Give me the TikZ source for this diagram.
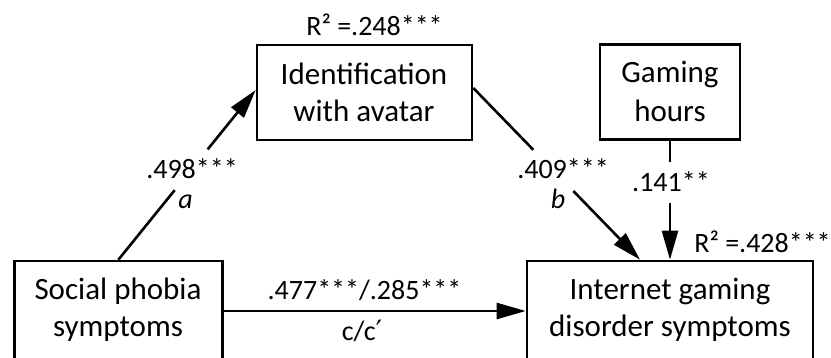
\documentclass[tikz,border=0pt]{standalone}
\usepackage{fontspec}
\setmainfont{Carlito}
\newfontfamily\primefont{DejaVu Sans}
\usetikzlibrary{arrows.meta,calc}
\begin{document}
\begin{tikzpicture}[x=1pt,y=-1pt,
  box/.style={draw, line width=2.6pt, inner sep=0pt},
  boxtext/.style={font=\fontsize{31}{37}\selectfont, inner sep=0pt, anchor=base},
  lab/.style={font=\fontsize{28}{33}\selectfont, inner sep=0pt, anchor=base},
  labit/.style={font=\fontsize{28}{33}\selectfont\itshape, inner sep=0pt, anchor=base},
  conn/.style={line width=2.6pt},
  arr/.style={conn, -{Triangle[length=29pt,width=16pt]}}]
\useasboundingbox (0,0) rectangle (831,358);
\clip (0,0) rectangle (831,358);
% boxes
\node[box, minimum width=215pt, minimum height=95pt] (ident) at (364.5,92.5) {};
\node[box, minimum width=140pt, minimum height=95pt] (gaming) at (670,92.3) {};
\node[box, minimum width=208pt, minimum height=100pt] (social) at (118.4,311) {};
\node[box, minimum width=286pt, minimum height=100pt] (igd) at (670,311) {};
% box texts
\node[boxtext] (identT1) at (364,85) {Identification};
\node[boxtext] (identT2) at (364,122) {with avatar};
\node[boxtext] (gamingT1) at (670,83) {Gaming};
\node[boxtext] (gamingT2) at (670,122) {hours};
\node[boxtext] (socialT1) at (118,300) {Social phobia};
\node[boxtext] (socialT2) at (118,337) {symptoms};
\node[boxtext] (igdT1) at (670,300) {Internet gaming};
\node[boxtext] (igdT2) at (670,337) {disorder symptoms};
% path a
\coordinate (aTip) at ([yshift=2.5pt]ident.west);
\path (social.north) -- (aTip) coordinate[pos=0.41] (aGap1) coordinate[pos=0.65] (aGap2);
\draw[conn] (social.north) -- (aGap1);
\draw[arr] (aGap2) -- (aTip);
% path b
\coordinate (bStart) at ([yshift=4.5pt]ident.east);
\coordinate (bTip) at ([xshift=-30pt]igd.north);
\path (bStart) -- (bTip) coordinate[pos=0.36] (bGap1) coordinate[pos=0.60] (bGap2);
\draw[conn] (bStart) -- (bGap1);
\draw[arr] (bGap2) -- (bTip);
% gaming hours
\path (gaming.south) -- (igd.north) coordinate[pos=0.18] (gGap1) coordinate[pos=0.52] (gGap2);
\draw[conn] (gaming.south) -- (gGap1);
\draw[arr] (gGap2) -- (igd.north);
% path c
\draw[arr] (social.east) -- (igd.west);
% labels
\node[lab] (aCoef) at (192,179) {.498***};
\node[labit] (aName) at (185.5,209) {a};
\node[lab] (bCoef) at (563,179) {.409***};
\node[labit] (bName) at (558,209) {b};
\node[lab] (gCoef) at (671,192) {.141**};
\node[lab] (cCoef) at (364.5,300) {.477***/.285***};
\node[lab] (cName) at (362,341) {c/c{\primefont ′}};
\node[lab] (r2a) at (374.5,36) {R² =.248***};
\node[lab] (r2b) at (762.5,253) {R² =.428***};
\end{tikzpicture}
\end{document}
